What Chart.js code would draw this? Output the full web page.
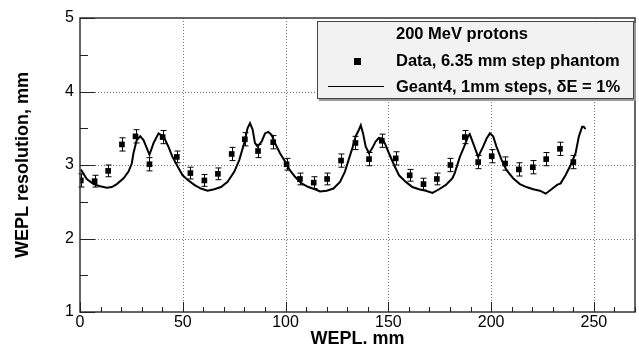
<!DOCTYPE html>
<html>
<head>
<meta charset="utf-8">
<script src="https://cdn.jsdelivr.net/npm/chart.js@4/dist/chart.umd.min.js"></script>
<style>
  html, body { margin: 0; padding: 0; background: #fff; }
  canvas { display: block; }
</style>
</head>
<body>
<canvas id="wepl" width="639" height="348"></canvas>
<script>
// measured WEPL resolution, step phantom
const dataX = [0.4, 7.1, 13.7, 20.4, 27.0, 33.8, 40.2, 47.1, 53.7, 60.5, 67.1, 73.8, 80.2, 86.6,
    94.0, 100.5, 107.0, 113.7, 120.2, 127.0, 134.0, 140.6, 146.8, 153.6, 160.4, 167.1, 173.6,
    180.2, 187.2, 193.7, 200.3, 206.8, 213.5, 220.3, 226.8, 233.5, 240.0];
const dataY = [2.79, 2.78, 2.92, 3.28, 3.39, 3.01, 3.38, 3.11, 2.89, 2.79, 2.88, 3.15, 3.35, 3.19,
    3.31, 3.01, 2.81, 2.76, 2.81, 3.06, 3.30, 3.08, 3.33, 3.09, 2.86, 2.74, 2.81,
    3.00, 3.38, 3.04, 3.12, 3.02, 2.94, 2.97, 3.08, 3.22, 3.04];
const dataErr = [0.09, 0.08, 0.08, 0.09, 0.09, 0.09, 0.09, 0.08, 0.08, 0.08, 0.08, 0.09, 0.09, 0.09,
    0.09, 0.08, 0.08, 0.08, 0.08, 0.09, 0.09, 0.09, 0.09, 0.09, 0.08, 0.08, 0.08,
    0.09, 0.09, 0.09, 0.09, 0.09, 0.09, 0.09, 0.09, 0.09, 0.09];

// Geant4 simulation curve
const g4X = [0.4, 3.3, 6.6, 9.8, 13.0, 15.5, 17.9, 21.2, 23.6, 25.2, 26.0, 27.6, 29.3, 30.9, 32.5,
    33.8, 35.8, 38.2, 40.6, 43.0, 45.0, 47.5, 49.9, 52.3, 55.6, 58.8, 62.1, 65.3, 68.6, 71.8,
    75.1, 77.5, 79.9, 81.5, 82.7, 84.0, 85.1, 86.4, 88.4, 90.0, 91.6, 93.2, 94.8, 97.3, 99.7,
    102.1, 104.6, 107.8, 111.1, 114.3, 116.8, 120.0, 123.3, 126.5, 128.9, 130.9, 132.5, 134.1,
    135.7, 136.6, 137.7, 139.0, 140.6, 142.2, 143.8, 145.4, 147.1, 148.7, 150.3, 152.8, 155.2,
    158.5, 161.7, 164.9, 168.2, 171.5, 174.7, 178.0, 181.2, 182.3, 184.8, 187.2, 188.8, 189.6,
    191.2, 193.7, 196.1, 197.8, 199.4, 201.0, 202.6, 205.1, 207.5, 210.7, 214.0, 217.2, 220.5,
    223.7, 226.6, 228.9, 232.1, 233.8, 236.2, 238.7, 241.1, 242.7, 244.3, 245.1, 245.9];
const g4Y = [2.94, 2.81, 2.74, 2.71, 2.69, 2.70, 2.74, 2.82, 2.91, 3.02, 3.16, 3.34, 3.39, 3.34, 3.23,
    3.14, 3.30, 3.43, 3.39, 3.25, 3.11, 2.98, 2.86, 2.80, 2.73, 2.68, 2.65, 2.67, 2.70, 2.77,
    2.91, 3.07, 3.30, 3.50, 3.57, 3.48, 3.30, 3.25, 3.32, 3.43, 3.45, 3.41, 3.30, 3.16, 3.05,
    2.93, 2.84, 2.75, 2.70, 2.67, 2.64, 2.65, 2.68, 2.77, 2.91, 3.09, 3.23, 3.39,
    3.48, 3.54, 3.43, 3.25, 3.16, 3.23, 3.32, 3.37, 3.36, 3.27, 3.16, 3.00, 2.86,
    2.77, 2.70, 2.67, 2.65, 2.62, 2.67, 2.73, 2.82, 2.89, 3.11, 3.27, 3.39, 3.42,
    3.30, 3.11, 3.25, 3.36, 3.43, 3.39, 3.25, 3.07, 2.93, 2.82, 2.74, 2.70, 2.67,
    2.65, 2.61, 2.66, 2.73, 2.75, 2.86, 3.00, 3.16, 3.39, 3.52, 3.52, 3.49];

const xTicks = [0, 50, 100, 150, 200, 250];
const yTicks = [1, 2, 3, 4, 5];
const legendTitle = '200 MeV protons';
const legendData = 'Data, 6.35 mm step phantom';
const legendSim = 'Geant4, 1mm steps, \u03B4E = 1%';

const FONT = "'Liberation Sans', Arial, Helvetica, sans-serif";

const points = dataX.map((x, i) => ({ x: x, y: dataY[i] }));
const curve = g4X.map((x, i) => ({ x: x, y: g4Y[i] }));

// dotted grid, error bars, inner ticks, frame and the boxed legend
const rootStyle = {
    id: 'rootStyle',
    beforeDatasetsDraw(chart) {
        const ctx = chart.ctx;
        const a = chart.chartArea;
        const xs = chart.scales.x, ys = chart.scales.y;
        ctx.save();
        ctx.strokeStyle = '#777';
        ctx.lineWidth = 1;
        ctx.setLineDash([1, 2]);
        xTicks.filter(v => v > 0).forEach(v => {
            const px = Math.round(xs.getPixelForValue(v)) + 0.5;
            ctx.beginPath(); ctx.moveTo(px, a.top); ctx.lineTo(px, a.bottom); ctx.stroke();
        });
        yTicks.filter(v => v > 1 && v < 5).forEach(v => {
            const py = Math.round(ys.getPixelForValue(v)) + 0.5;
            ctx.beginPath(); ctx.moveTo(a.left, py); ctx.lineTo(a.right, py); ctx.stroke();
        });
        ctx.setLineDash([]);

        // error bars with small caps
        ctx.strokeStyle = '#000';
        ctx.lineWidth = 1;
        dataX.forEach((x, i) => {
            const px = Math.round(xs.getPixelForValue(x)) + 0.5;
            const top = ys.getPixelForValue(dataY[i] + dataErr[i]);
            const bot = ys.getPixelForValue(dataY[i] - dataErr[i]);
            ctx.beginPath();
            ctx.moveTo(px, top); ctx.lineTo(px, bot);
            ctx.moveTo(px - 3, top); ctx.lineTo(px + 3, top);
            ctx.moveTo(px - 3, bot); ctx.lineTo(px + 3, bot);
            ctx.stroke();
        });
        ctx.restore();
    },
    afterDraw(chart) {
        const ctx = chart.ctx;
        const a = chart.chartArea;
        const xs = chart.scales.x, ys = chart.scales.y;
        ctx.save();
        ctx.strokeStyle = '#333';
        ctx.lineWidth = 1.5;
        ctx.strokeRect(a.left, a.top, a.right - a.left, a.bottom - a.top);

        // ticks point inwards
        ctx.lineWidth = 1;
        ctx.strokeStyle = '#222';
        for (let v = 0; v <= 270; v += 10) {
            const px = Math.round(xs.getPixelForValue(v)) + 0.5;
            const len = v % 50 === 0 ? 10 : 5;
            ctx.beginPath(); ctx.moveTo(px, a.bottom); ctx.lineTo(px, a.bottom - len); ctx.stroke();
        }
        for (let v = 1; v <= 5; v += 0.5) {
            const py = Math.round(ys.getPixelForValue(v)) + 0.5;
            const len = v % 1 === 0 ? 15 : 8;
            ctx.beginPath(); ctx.moveTo(a.left, py); ctx.lineTo(a.left + len, py); ctx.stroke();
        }

        // legend box
        const bx = 317, by = 21, bw = 317, bh = 78;
        ctx.fillStyle = '#999';
        ctx.fillRect(bx + 2, by + 2, bw, bh);
        ctx.fillStyle = '#f2f2f2';
        ctx.fillRect(bx, by, bw, bh);
        ctx.strokeStyle = '#444';
        ctx.lineWidth = 1;
        ctx.strokeRect(bx + 0.5, by + 0.5, bw - 1, bh - 1);

        ctx.fillStyle = '#000';
        ctx.font = 'bold 16.5px ' + FONT;
        ctx.textBaseline = 'middle';
        ctx.textAlign = 'left';
        ctx.fillText(legendTitle, 396, 34);
        ctx.fillText(legendData, 396, 61);
        ctx.fillText(legendSim, 396, 87);
        ctx.fillRect(354, 58, 7, 7);
        ctx.strokeStyle = '#000';
        ctx.lineWidth = 1;
        ctx.beginPath(); ctx.moveTo(328, 86.5); ctx.lineTo(384, 86.5); ctx.stroke();
        ctx.restore();
    }
};

new Chart(document.getElementById('wepl'), {
    type: 'scatter',
    data: {
        datasets: [
            {
                label: legendSim,
                data: curve,
                showLine: true,
                borderColor: '#000',
                borderWidth: 2,
                pointRadius: 0,
                tension: 0,
                order: 2
            },
            {
                label: legendData,
                data: points,
                pointStyle: 'rect',
                pointRadius: 4,
                backgroundColor: '#000',
                borderColor: '#000',
                borderWidth: 0,
                order: 1
            }
        ]
    },
    options: {
        responsive: false,
        animation: false,
        devicePixelRatio: 1,
        layout: { padding: { top: 18, right: 2, left: 0, bottom: 0 } },
        plugins: {
            legend: { display: false },
            tooltip: { enabled: false }
        },
        scales: {
            x: {
                type: 'linear',
                min: 0,
                max: 270,
                afterFit: s => { s.height = 36; },
                afterBuildTicks: s => { s.ticks = xTicks.map(v => ({ value: v })); },
                grid: { display: false, drawTicks: false },
                border: { display: false },
                ticks: { color: '#000', font: { family: FONT, size: 16, lineHeight: 1 }, padding: 3, maxRotation: 0 },
                title: {
                    display: true,
                    text: 'WEPL. mm',
                    color: '#000',
                    font: { family: FONT, size: 18, weight: 'bold', lineHeight: 1 },
                    padding: { top: 0, bottom: 0 }
                }
            },
            y: {
                type: 'linear',
                min: 1,
                max: 5,
                afterFit: s => { s.width = 80; },
                afterBuildTicks: s => { s.ticks = yTicks.map(v => ({ value: v })); },
                grid: { display: false, drawTicks: false },
                border: { display: false },
                ticks: { color: '#000', font: { family: FONT, size: 16 }, padding: 6 },
                title: {
                    display: true,
                    text: 'WEPL resolution, mm',
                    color: '#000',
                    font: { family: FONT, size: 18, weight: 'bold' },
                    padding: { top: 12, bottom: 0 }
                }
            }
        }
    },
    plugins: [rootStyle]
});
</script>
</body>
</html>
